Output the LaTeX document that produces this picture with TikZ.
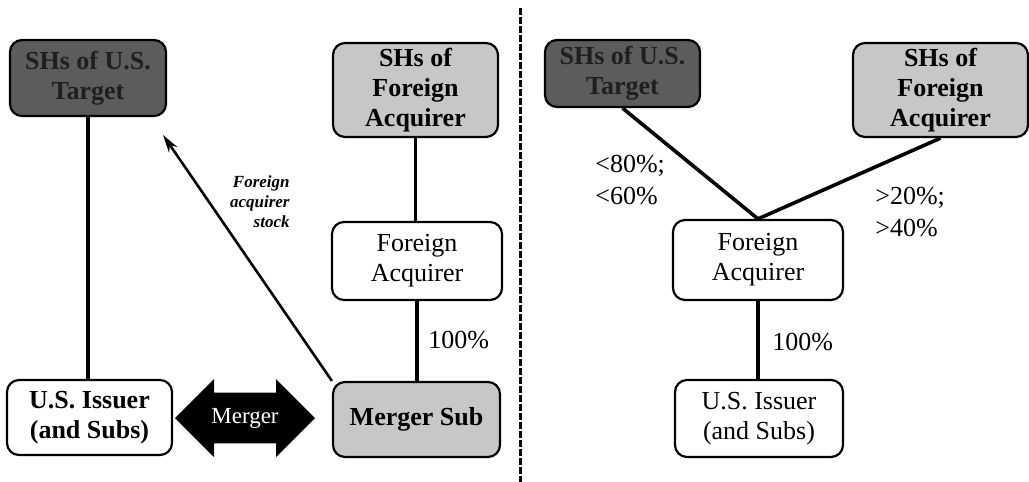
\documentclass[tikz,border=0pt]{standalone}
\usepackage{fontspec}
\setmainfont{Liberation Serif}
\usetikzlibrary{shapes.arrows,arrows.meta}

\tikzset{
  box/.style={draw, line width=1.1pt, rounded corners=6pt, fill=white, align=center,
    inner sep=0pt, font=\fontsize{13}{15}\selectfont},
  darkbox/.style={box, fill=black!64, text=black!88, font=\fontsize{13}{15}\selectfont\bfseries},
  lightbox/.style={box, fill=black!22, font=\fontsize{13}{15}\selectfont\bfseries},
  link/.style={line width=1.8pt},
  pct/.style={align=left, inner sep=0pt, font=\fontsize{13}{16}\selectfont},
}

\begin{document}
\begin{tikzpicture}[x=0.5pt, y=-0.5pt]
  \useasboundingbox (0,0) rectangle (1029,482);
  % draw dashed divider between the two steps
  \draw[line width=1.5pt, dash pattern=on 3.5pt off 1pt] (520,8) -- (520,482);

  % left side: the merger
  \node[darkbox, minimum width=78pt, minimum height=38pt] (lt) at (88,78) {SHs of U.S.\\Target};
  \node[lightbox, minimum width=82.5pt, minimum height=47pt] (lf) at (415.5,90) {SHs of\\Foreign\\Acquirer};
  \node[box, minimum width=85pt, minimum height=39pt] (la) at (417,261) {Foreign\\Acquirer};
  \node[lightbox, minimum width=83.5pt, minimum height=37.5pt] (ms) at (416.5,419.5) {Merger Sub};
  \node[box, minimum width=82.5pt, minimum height=37.5pt, font=\fontsize{13}{15}\selectfont\bfseries] (li) at (89.5,417.5) {U.S. Issuer\\(and Subs)};
  \node[double arrow, fill=black, text=white, minimum height=70pt, minimum width=39pt,
    double arrow head extend=6.5pt, inner xsep=2pt, inner ysep=7pt,
    font=\fontsize{11.5}{13}\selectfont] (merger) at (245,418) {Merger};

  \draw[link] (lt.south) -- (lt.south |- li.north);
  \draw[link] (lf.south) -- (lf.south |- la.north);
  \draw[link] (la.south) -- (la.south |- ms.north);
  \node[pct, anchor=west] (lpct) at (428,340) {100\%};

  % stock handed to the target's shareholders
  \coordinate (stocktip) at (163,135);
  \draw[line width=1.3pt, -{Stealth[length=9pt, width=5pt]}] (ms.north west) -- (stocktip);
  \node[align=right, anchor=east, inner sep=0pt, font=\fontsize{8.5}{10}\selectfont\bfseries\itshape]
    (stock) at (290,202) {Foreign\\acquirer\\stock};

  % right side: after the merger
  \node[darkbox, minimum width=77.5pt, minimum height=33.5pt] (rt) at (622.5,73.5) {SHs of U.S.\\Target};
  \node[lightbox, minimum width=87.5pt, minimum height=47pt] (rf) at (940.5,90) {SHs of\\Foreign\\Acquirer};
  \node[box, minimum width=85pt, minimum height=40pt] (ra) at (758,260) {Foreign\\Acquirer};
  \node[box, minimum width=84pt, minimum height=38.5pt] (ri) at (759,418.5) {U.S. Issuer\\(and Subs)};

  \draw[link] (rt.south) -- (ra.north);
  \draw[link] (rf.south) -- (ra.north);
  \draw[link] (ra.south) -- (ra.south |- ri.north);
  \node[pct, anchor=west] (tpct) at (595,180) {<80\%;\\<60\%};
  \node[pct, anchor=west] (fpct) at (875,212) {>20\%;\\>40\%};
  \node[pct, anchor=west] (rpct) at (772,342) {100\%};
\end{tikzpicture}
\end{document}
